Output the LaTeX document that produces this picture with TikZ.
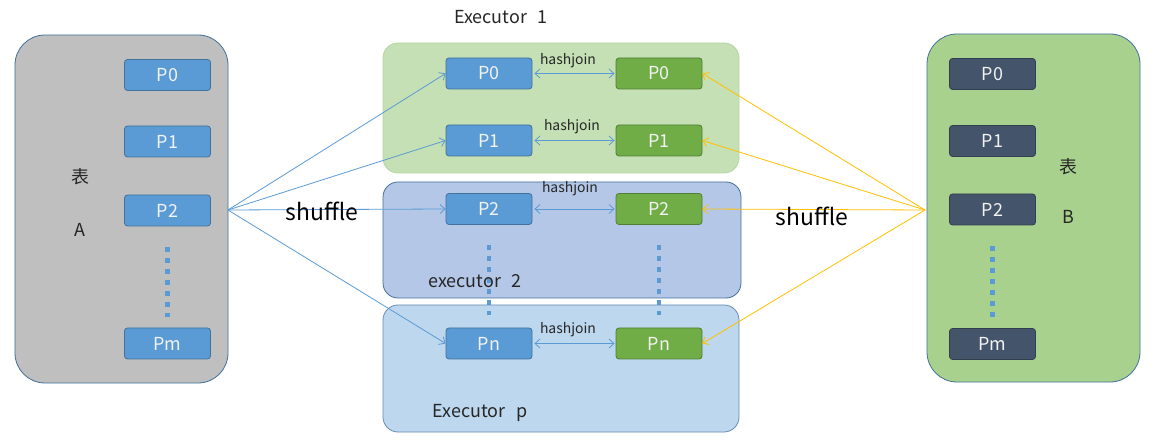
\documentclass[tikz,border=0pt]{standalone}
\usepackage{fontspec}
\setmainfont{Noto Sans CJK SC}
\usetikzlibrary{arrows.meta}
\definecolor{pblue}{HTML}{5B9BD5}
\definecolor{pblueB}{HTML}{41719C}
\definecolor{pgreen}{HTML}{70AD47}
\definecolor{pgreenB}{HTML}{507E32}
\definecolor{pdark}{HTML}{44546A}
\definecolor{pdarkB}{HTML}{333F50}
\definecolor{grayA}{HTML}{BFBFBF}
\definecolor{greenB}{HTML}{A9D18E}
\definecolor{exone}{HTML}{C5E0B4}
\definecolor{exoneB}{HTML}{B5D5A0}
\definecolor{extwo}{HTML}{B4C7E7}
\definecolor{exp}{HTML}{BDD7EE}
\definecolor{lineblue}{HTML}{5B9BD5}
\definecolor{lineyellow}{HTML}{FFC000}
\definecolor{ptext}{HTML}{F2F2F2}
\begin{document}
\begin{tikzpicture}[x=1bp,y=-1bp,
  pbox/.style={rounded corners=3bp, minimum width=86bp, minimum height=31bp, inner sep=0pt,
    line width=0.8bp, font=\fontsize{18}{18}\selectfont, text=ptext},
  pA/.style={pbox, fill=pblue, draw=pblueB},
  pG/.style={pbox, fill=pgreen, draw=pgreenB},
  pD/.style={pbox, fill=pdark, draw=pdarkB},
  bigbox/.style={rounded corners=30bp, minimum width=213bp, minimum height=348bp, line width=0.8bp, draw=pblueB},
  exbox/.style={rounded corners=15bp, line width=0.8bp},
  lbl/.style={font=\fontsize{18}{18}\selectfont, text=black!85, inner sep=0pt},
  hj/.style={font=\fontsize{14}{14}\selectfont, text=black!85, inner sep=0pt},
  shuf/.style={font=\fontsize{23}{23}\selectfont, text=black, inner sep=0pt},
  dots/.style={line width=4.5bp, pblue, dash pattern=on 4.5bp off 6.5bp},
  bl/.style={draw=lineblue, line width=0.8bp, -{Straight Barb[length=5bp,width=9bp]}},
  yl/.style={draw=lineyellow, line width=0.8bp, -{Straight Barb[length=5bp,width=9bp]}},
  hjarr/.style={draw=lineblue, line width=0.8bp, {Straight Barb[length=5bp,width=9bp]}-{Straight Barb[length=5bp,width=9bp]}}
]
\useasboundingbox (0,0) rectangle (1159,442);
\fill[white] (0,0) rectangle (1159,442);

% executor boxes
\node[exbox, fill=exone, draw=exoneB, minimum width=356bp, minimum height=130bp] (ex1) at (561,108) {};
\node[exbox, fill=extwo, draw=pblueB, minimum width=358bp, minimum height=116bp] (ex2) at (562,240) {};
\node[exbox, fill=exp, draw=pblueB!80, minimum width=356bp, minimum height=127bp] (exp) at (561,368.5) {};

% big tables
\node[bigbox, fill=grayA] (A) at (121.5,209) {};
\node[bigbox, fill=greenB] (B) at (1033.5,208) {};

% P boxes in A
\node[pA] (a0) at (167.5,75) {P0};
\node[pA] (a1) at (167.5,141.5) {P1};
\node[pA] (a2) at (167.5,210.5) {P2};
\node[pA] (am) at (167.5,343.5) {Pm};

% P boxes in B
\node[pD] (b0) at (992.5,74) {P0};
\node[pD] (b1) at (992.5,141) {P1};
\node[pD] (b2) at (992.5,209.5) {P2};
\node[pD] (bm) at (992.5,344) {Pm};

% middle boxes
\node[pA] (m0) at (489,73.5) {P0};
\node[pA] (m1) at (489,140.5) {P1};
\node[pA] (m2) at (489,209) {P2};
\node[pA] (mn) at (489,343.5) {Pn};
\node[pG] (g0) at (659,73.5) {P0};
\node[pG] (g1) at (659,140.5) {P1};
\node[pG] (g2) at (659,209) {P2};
\node[pG] (gn) at (659,343.5) {Pn};

% dotted lines
\draw[dots] ([yshift=-21bp]a2.south) -- ([yshift=11bp]am.north);
\draw[dots] ([yshift=-21bp]b2.south) -- ([yshift=11bp]bm.north);
\draw[dots] ([yshift=-20.5bp]m2.south) -- ([yshift=13bp]mn.north);
\draw[dots] ([yshift=-20.5bp]g2.south) -- ([yshift=13bp]gn.north);

% shuffle lines
\coordinate (Aout) at (228,210);
\coordinate (Bout) at (925,210);
\draw[bl] (Aout) -- (m0.west);
\draw[bl] (Aout) -- (m1.west);
\draw[bl] (Aout) -- (m2.west);
\draw[bl] (Aout) -- (mn.west);
\draw[yl] (Bout) -- (g0.east);
\draw[yl] (Bout) -- (g1.east);
\draw[yl] (Bout) -- (g2.east);
\draw[yl] (Bout) -- (gn.east);

% hashjoin arrows
\draw[hjarr] ([xshift=2bp]m0.east) -- ([xshift=-1bp]g0.west);
\draw[hjarr] ([xshift=2bp]m1.east) -- ([xshift=-1bp]g1.west);
\draw[hjarr] ([xshift=2bp]m2.east) -- ([xshift=-1bp]g2.west);
\draw[hjarr] ([xshift=2bp]mn.east) -- ([xshift=-1bp]gn.west);
\node[hj] (h0) at (568,61) {hashjoin};
\node[hj] (h1) at (572,127) {hashjoin};
\node[hj] (h2) at (570,189) {hashjoin};
\node[hj] (hn) at (568,330) {hashjoin};

% labels
\node[lbl] (t1) at (501,17) {Executor\hspace{0.6em}1};
\node[lbl] (t2) at (475,281) {executor\hspace{0.6em}2};
\node[lbl] (tp) at (480,413) {Executor\hspace{0.6em}p};
\node[shuf] (s1) at (322,211) {shuffle};
\node[shuf] (s2) at (812,216) {shuffle};
\node[lbl] (ta) at (80,177) {表};
\node[lbl] (la) at (80,230) {A};
\node[lbl] (tb) at (1068,167) {表};
\node[lbl] (lb) at (1068,217) {B};
\end{tikzpicture}
\end{document}
